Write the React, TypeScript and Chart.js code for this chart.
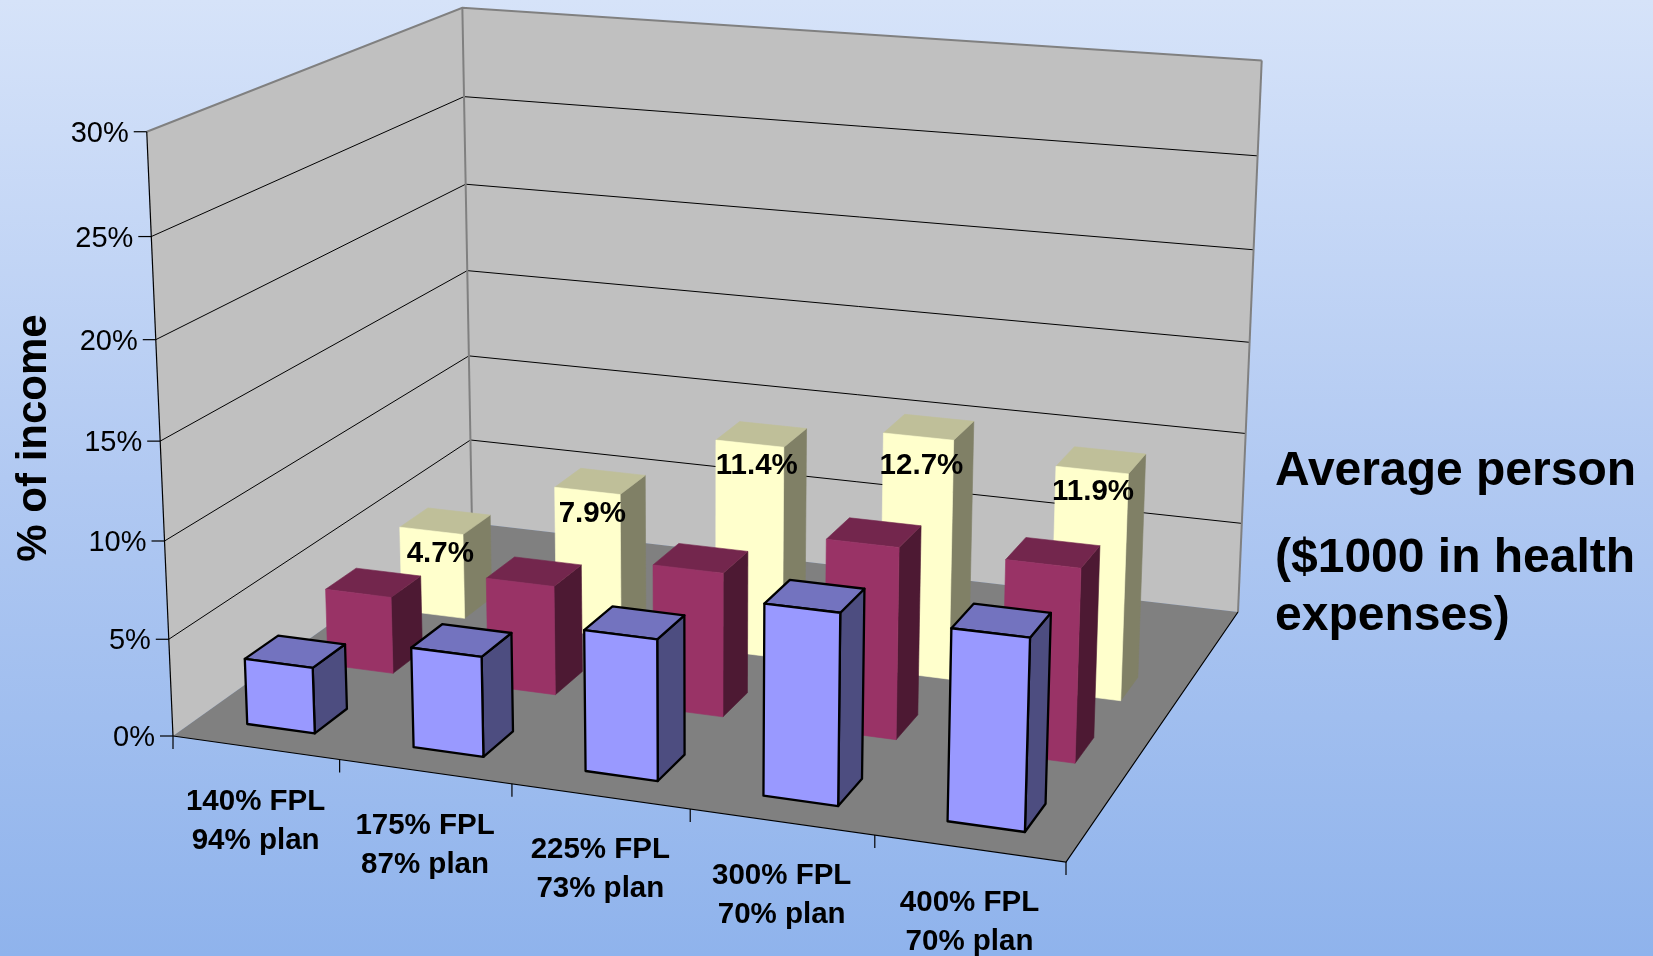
import React, { useEffect, useRef } from "react";
import { Chart, BarController, BarElement, CategoryScale, LinearScale } from "chart.js";

const categoriesFpl = ["140% FPL", "175% FPL", "225% FPL", "300% FPL", "400% FPL"];
const categoriesPlan = ["94% plan", "87% plan", "73% plan", "70% plan", "70% plan"];
const depthSlots = ["Series A", "Series B", "Series C", ""];
const blueValues = [3.4, 5.1, 7.1, 9.5, 9.4];
const redValues = [4.1, 5.75, 7.5, 9.85, 9.85];
const yellowValues = [4.7, 7.9, 11.4, 12.7, 11.9];
const yTicks = [0, 5, 10, 15, 20, 25, 30];
const yTitle = "% of income";
const sideNote = ["Average person", "($1000 in health", "expenses)"];

const FONT = '"Liberation Sans", Arial, sans-serif';
// Frame of the 3D box, in page pixels
const FL = [173, 736], FR = [1066, 862], BR = [1238, 612], BL = [472, 523];
const TOP_FL = [150, 131], TOP_BL = [464, 9], TOP_BR = [1257, 60];
const PERSP_T = -0.047;
const LABEL_NUDGE_X = [9, 5, 7, 3, 1];
const LABEL_NUDGE_Y = [23, 23, 22, 29, 22];

function makeProjection() {
  const [x0, y0] = FL, [x1, y1] = FR, [x2, y2] = BR, [x3, y3] = BL;
  const sx = x0 - x1 + x2 - x3, sy = y0 - y1 + y2 - y3;
  const dx1 = x1 - x2, dx2 = x3 - x2, dy1 = y1 - y2, dy2 = y3 - y2;
  const den = dx1 * dy2 - dx2 * dy1;
  const g = (sx * dy2 - dx2 * sy) / den;
  const h = (dx1 * sy - sx * dy1) / den;
  const a = x1 - x0 + g * x1, b = x3 - x0 + h * x3, c = x0;
  const d = y1 - y0 + g * y1, e = y3 - y0 + h * y3, f = y0;
  const i = PERSP_T;
  const corners: [number, number, number[]][] = [[0, 0, TOP_FL], [0, 1, TOP_BL], [1, 1, TOP_BR]];
  let p = 0, q = 0;
  for (const [u, v, pt] of corners) {
    const W = g * u + h * v + 1 + i;
    p += (pt[0] * W - (a * u + b * v + c)) / 3;
    q += (pt[1] * W - (d * u + e * v + f)) / 3;
  }
  return (u: number, v: number, t: number): [number, number] => {
    const W = g * u + h * v + 1 + i * t;
    return [(a * u + b * v + c + p * t) / W, (d * u + e * v + f + q * t) / W];
  };
}
const project = makeProjection();

const poly = (ctx: CanvasRenderingContext2D, pts: [number, number][]) => {
  ctx.beginPath();
  pts.forEach((pt, k) => (k ? ctx.lineTo(pt[0], pt[1]) : ctx.moveTo(pt[0], pt[1])));
};

const norm = (chart: any) => {
  const a = chart.chartArea;
  return {
    u: (px: number) => (px - a.left) / (a.right - a.left),
    v: (px: number) => (px - a.left) / (a.right - a.left),
    t: (py: number) => (a.bottom - py) / (a.bottom - a.top),
  };
};

const BAR_HALF_U = 0.205; // share of a category slot
const BAR_HALF_V = 0.2; // share of a depth slot

function barBox(chart: any, dsIndex: number, i: number, value: number) {
  const n = norm(chart);
  const xs = chart.scales.x, zs = chart.scales.z, ys = chart.scales.y;
  const cu = n.u(xs.getPixelForValue(i));
  const cv = n.v(zs.getPixelForValue(dsIndex));
  const du = BAR_HALF_U / categoriesFpl.length;
  const dv = BAR_HALF_V / depthSlots.length;
  const t = n.t(ys.getPixelForValue(value));
  return { u0: cu - du, u1: cu + du, v0: cv - dv, v1: cv + dv, t, cu, cv };
}

class Bar3DController extends BarController {
  static id = "bar3d";
  draw() {
    const chart: any = this.chart;
    const ctx: CanvasRenderingContext2D = chart.ctx;
    const ds: any = this.getDataset();
    const values = ds.data as number[];
    values.forEach((val, i) => {
      const b = barBox(chart, this.index, i, val);
      const faces: [[number, number][], string][] = [
        [[project(b.u1, b.v0, 0), project(b.u1, b.v1, 0), project(b.u1, b.v1, b.t), project(b.u1, b.v0, b.t)], ds.sideColor],
        [[project(b.u0, b.v0, b.t), project(b.u1, b.v0, b.t), project(b.u1, b.v1, b.t), project(b.u0, b.v1, b.t)], ds.topColor],
        [[project(b.u0, b.v0, 0), project(b.u1, b.v0, 0), project(b.u1, b.v0, b.t), project(b.u0, b.v0, b.t)], ds.backgroundColor],
      ];
      faces.forEach(([pts, color]) => {
        poly(ctx, pts);
        ctx.closePath();
        ctx.fillStyle = color;
        ctx.fill();
        ctx.lineJoin = "round";
        ctx.strokeStyle = ds.borderColor === "transparent" ? color : ds.borderColor;
        ctx.lineWidth = ds.borderColor === "transparent" ? 0.6 : 2.3;
        ctx.stroke();
      });
    });
  }
}

const boxPlugin = {
  id: "box3d",
  beforeDraw(chart: any) {
    const { ctx, width, height } = chart;
    const g = ctx.createLinearGradient(0, 0, 0, height);
    g.addColorStop(0, "#d6e3f9");
    g.addColorStop(0.5, "#b1c9f2");
    g.addColorStop(1, "#8fb3ec");
    ctx.fillStyle = g;
    ctx.fillRect(0, 0, width, height);
  },
  beforeDatasetsDraw(chart: any) {
    const ctx: CanvasRenderingContext2D = chart.ctx;
    const n = norm(chart);
    const ys = chart.scales.y;
    ctx.save();
    // walls
    ctx.fillStyle = "#c0c0c0";
    poly(ctx, [project(0, 0, 0), project(0, 1, 0), project(0, 1, 1), project(0, 0, 1)]);
    ctx.closePath();
    ctx.fill();
    poly(ctx, [project(0, 1, 0), project(1, 1, 0), project(1, 1, 1), project(0, 1, 1)]);
    ctx.closePath();
    ctx.fill();
    // floor
    ctx.fillStyle = "#808080";
    poly(ctx, [project(0, 0, 0), project(1, 0, 0), project(1, 1, 0), project(0, 1, 0)]);
    ctx.closePath();
    ctx.fill();
    // gridlines
    ctx.strokeStyle = "#000000";
    ctx.lineWidth = 1;
    yTicks.forEach((tv) => {
      if (tv === 0 || tv === ys.max) return;
      const t = n.t(ys.getPixelForValue(tv));
      poly(ctx, [project(0, 0, t), project(0, 1, t), project(1, 1, t)]);
      ctx.stroke();
    });
    // grey wall edges
    ctx.strokeStyle = "#808080";
    ctx.lineWidth = 2;
    poly(ctx, [project(0, 0, 1), project(0, 1, 1), project(1, 1, 1)]);
    ctx.stroke();
    poly(ctx, [project(0, 1, 0), project(0, 1, 1)]);
    ctx.stroke();
    poly(ctx, [project(1, 1, 1), project(1, 1, 0)]);
    ctx.stroke();
    // black axes
    ctx.strokeStyle = "#000000";
    ctx.lineWidth = 1.2;
    const f0 = project(0, 0, 0);
    poly(ctx, [project(0, 0, 1), f0]);
    ctx.stroke();
    poly(ctx, [f0, project(1, 0, 0), project(1, 1, 0)]);
    ctx.stroke();
    // category ticks
    for (let k = 0; k <= categoriesFpl.length; k++) {
      const pt = project(k / categoriesFpl.length, 0, 0);
      poly(ctx, [pt, [pt[0], pt[1] + 13]]);
      ctx.stroke();
    }
    // value ticks and labels
    ctx.fillStyle = "#000000";
    ctx.font = `29px ${FONT}`;
    ctx.textAlign = "right";
    ctx.textBaseline = "middle";
    yTicks.forEach((tv) => {
      const t = n.t(ys.getPixelForValue(tv));
      const pt = project(0, 0, t);
      poly(ctx, [pt, [pt[0] - 13, pt[1]]]);
      ctx.stroke();
      ctx.fillText(`${tv}%`, pt[0] - 18, pt[1] + 2);
    });
    // category labels
    ctx.font = `bold 29.5px ${FONT}`;
    ctx.textAlign = "center";
    categoriesFpl.forEach((lab, i) => {
      const pt = project(n.u(chart.scales.x.getPixelForValue(i)), 0, 0);
      ctx.fillText(lab, pt[0], pt[1] + 54);
      ctx.fillText(categoriesPlan[i], pt[0], pt[1] + 93);
    });
    // axis title
    ctx.save();
    ctx.translate(34, 438);
    ctx.rotate(-Math.PI / 2);
    ctx.font = `bold 42px ${FONT}`;
    ctx.fillText(yTitle, 0, 0);
    ctx.restore();
    // side note
    ctx.font = `bold 48px ${FONT}`;
    ctx.textAlign = "left";
    ctx.fillText(sideNote[0], 1275, 472);
    ctx.fillText(sideNote[1], 1275, 559);
    ctx.fillText(sideNote[2], 1275, 617);
    ctx.restore();
  },
  afterDatasetsDraw(chart: any) {
    const ctx: CanvasRenderingContext2D = chart.ctx;
    chart.data.datasets.forEach((ds: any, idx: number) => {
      if (!ds.showValues) return;
      ds.data.forEach((val: number, i: number) => {
        const b = barBox(chart, idx, i, val);
        const pt = project(b.cu, b.v0, b.t);
        ctx.save();
        ctx.font = `bold 29.5px ${FONT}`;
        ctx.fillStyle = "#000000";
        ctx.textAlign = "center";
        ctx.textBaseline = "middle";
        ctx.fillText(`${val.toFixed(1)}%`, pt[0] + LABEL_NUDGE_X[i], pt[1] + LABEL_NUDGE_Y[i]);
        ctx.restore();
      });
    });
  },
};

Chart.register(Bar3DController, BarController, BarElement, CategoryScale, LinearScale);

export default function App() {
  const ref = useRef<HTMLCanvasElement>(null);
  useEffect(() => {
    document.body.style.margin = "0";
    const chart = new Chart(ref.current!, {
      type: "bar3d" as any,
      data: {
        labels: categoriesFpl,
        datasets: [
          { label: depthSlots[0], data: blueValues, backgroundColor: "#9999ff", topColor: "#7373bf", sideColor: "#4d4d80", borderColor: "#000000" },
          { label: depthSlots[1], data: redValues, backgroundColor: "#993366", topColor: "#73264d", sideColor: "#4d1933", borderColor: "transparent" },
          { label: depthSlots[2], data: yellowValues, backgroundColor: "#ffffcc", topColor: "#bfbf99", sideColor: "#808066", borderColor: "transparent", showValues: true },
        ] as any,
      },
      options: {
        responsive: false,
        animation: false,
        layout: { padding: 0 },
        events: [],
        scales: {
          x: { type: "category", display: false, offset: true },
          z: { type: "category", axis: "x", display: false, offset: true, labels: depthSlots },
          y: { type: "linear", display: false, min: 0, max: 30, ticks: { stepSize: 5 } },
        } as any,
        plugins: { legend: { display: false }, title: { display: false }, tooltip: { enabled: false } },
      } as any,
      plugins: [boxPlugin],
    });
    return () => chart.destroy();
  }, []);
  return <canvas ref={ref} width={1653} height={956} style={{ display: "block" }} />;
}
